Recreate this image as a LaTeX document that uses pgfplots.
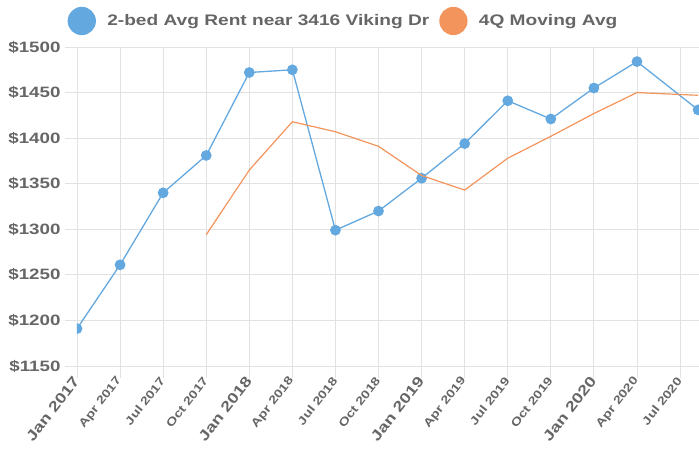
\documentclass[border=0pt]{standalone}
\usepackage{pgfplots}
\pgfplotsset{compat=1.18}
\usepackage{fontspec}
\setmainfont[FakeStretch=1.25]{Liberation Sans}
\definecolor{bl}{RGB}{100,168,224}
\definecolor{orng}{RGB}{242,148,92}
\definecolor{txt}{RGB}{102,102,102}
\definecolor{gridc}{RGB}{226,226,226}
\begin{document}
\begin{tikzpicture}
\begin{axis}[name=ax, scale only axis, width=622pt, height=319pt,
  xmin=0, xmax=14.44, ymin=1150, ymax=1500,
  axis line style={draw=none},
  grid=major, major grid style={gridc, line width=0.9pt},
  tick align=outside, tick style={gridc, line width=0.9pt},
  major tick length=12pt,
  xtick pos=bottom, ytick pos=left,
  clip marker paths=true,
  ytick={1150,1200,1250,1300,1350,1400,1450,1500},
  yticklabels={\$1150,\$1200,\$1250,\$1300,\$1350,\$1400,\$1450,\$1500},
  yticklabel style={font=\bfseries\fontsize{15}{15}\selectfont, text=txt, xshift=-1pt},
  xtick={0,...,14},
  xticklabels={{\fontsize{14.5}{14.5}\selectfont Jan 2017},Apr 2017,Jul 2017,Oct 2017,{\fontsize{14.5}{14.5}\selectfont Jan 2018},Apr 2018,Jul 2018,Oct 2018,{\fontsize{14.5}{14.5}\selectfont Jan 2019},Apr 2019,Jul 2019,Oct 2019,{\fontsize{14.5}{14.5}\selectfont Jan 2020},Apr 2020,Jul 2020},
  xticklabel style={font=\bfseries\fontsize{11.5}{11.5}\selectfont, text=txt, rotate=52, anchor=east, inner sep=1pt},
  legend columns=2,
  legend style={at={(axis description cs:0.4285,1.0815)}, anchor=center, draw=none, fill=none,
    font=\bfseries\fontsize{15.3}{15.3}\selectfont, text=txt,
    /tikz/every odd column/.append style={column sep=0pt},
    /tikz/every even column/.append style={column sep=8pt},
    legend cell align=left},
]
\addplot[color=bl, line width=1.3pt, mark=*, mark size=4.7pt, mark options={fill=bl, draw=bl},
  legend image code/.code={\fill[bl] (13.5pt,0pt) circle (13.5pt); \path[draw=none] (0pt,0pt) -- (37pt,0pt);}]
  coordinates {(0,1191)(1,1261)(2,1340)(3,1381)(4,1472)(5,1475)(6,1299)(7,1320)(8,1356)(9,1394)(10,1441)(11,1421)(12,1455)(13,1484)(14.42,1431)};
\addlegendentry{2-bed Avg Rent near 3416 Viking Dr}
\addplot[color=orng, line width=1.2pt, mark=none,
  legend image code/.code={\fill[orng] (13.5pt,0pt) circle (13.5pt); \path[draw=none] (0pt,0pt) -- (37pt,0pt);}]
  coordinates {(3,1294)(4,1365)(5,1418)(6,1407)(7,1391)(8,1359)(9,1343)(10,1378)(11,1402)(12,1427)(13,1450)(14.42,1447)};
\addlegendentry{4Q Moving Avg}
\end{axis}
\pgfresetboundingbox
\path ([xshift=-77pt, yshift=-85pt]ax.south west) rectangle ([yshift=47pt]ax.north east);
\end{tikzpicture}
\end{document}
